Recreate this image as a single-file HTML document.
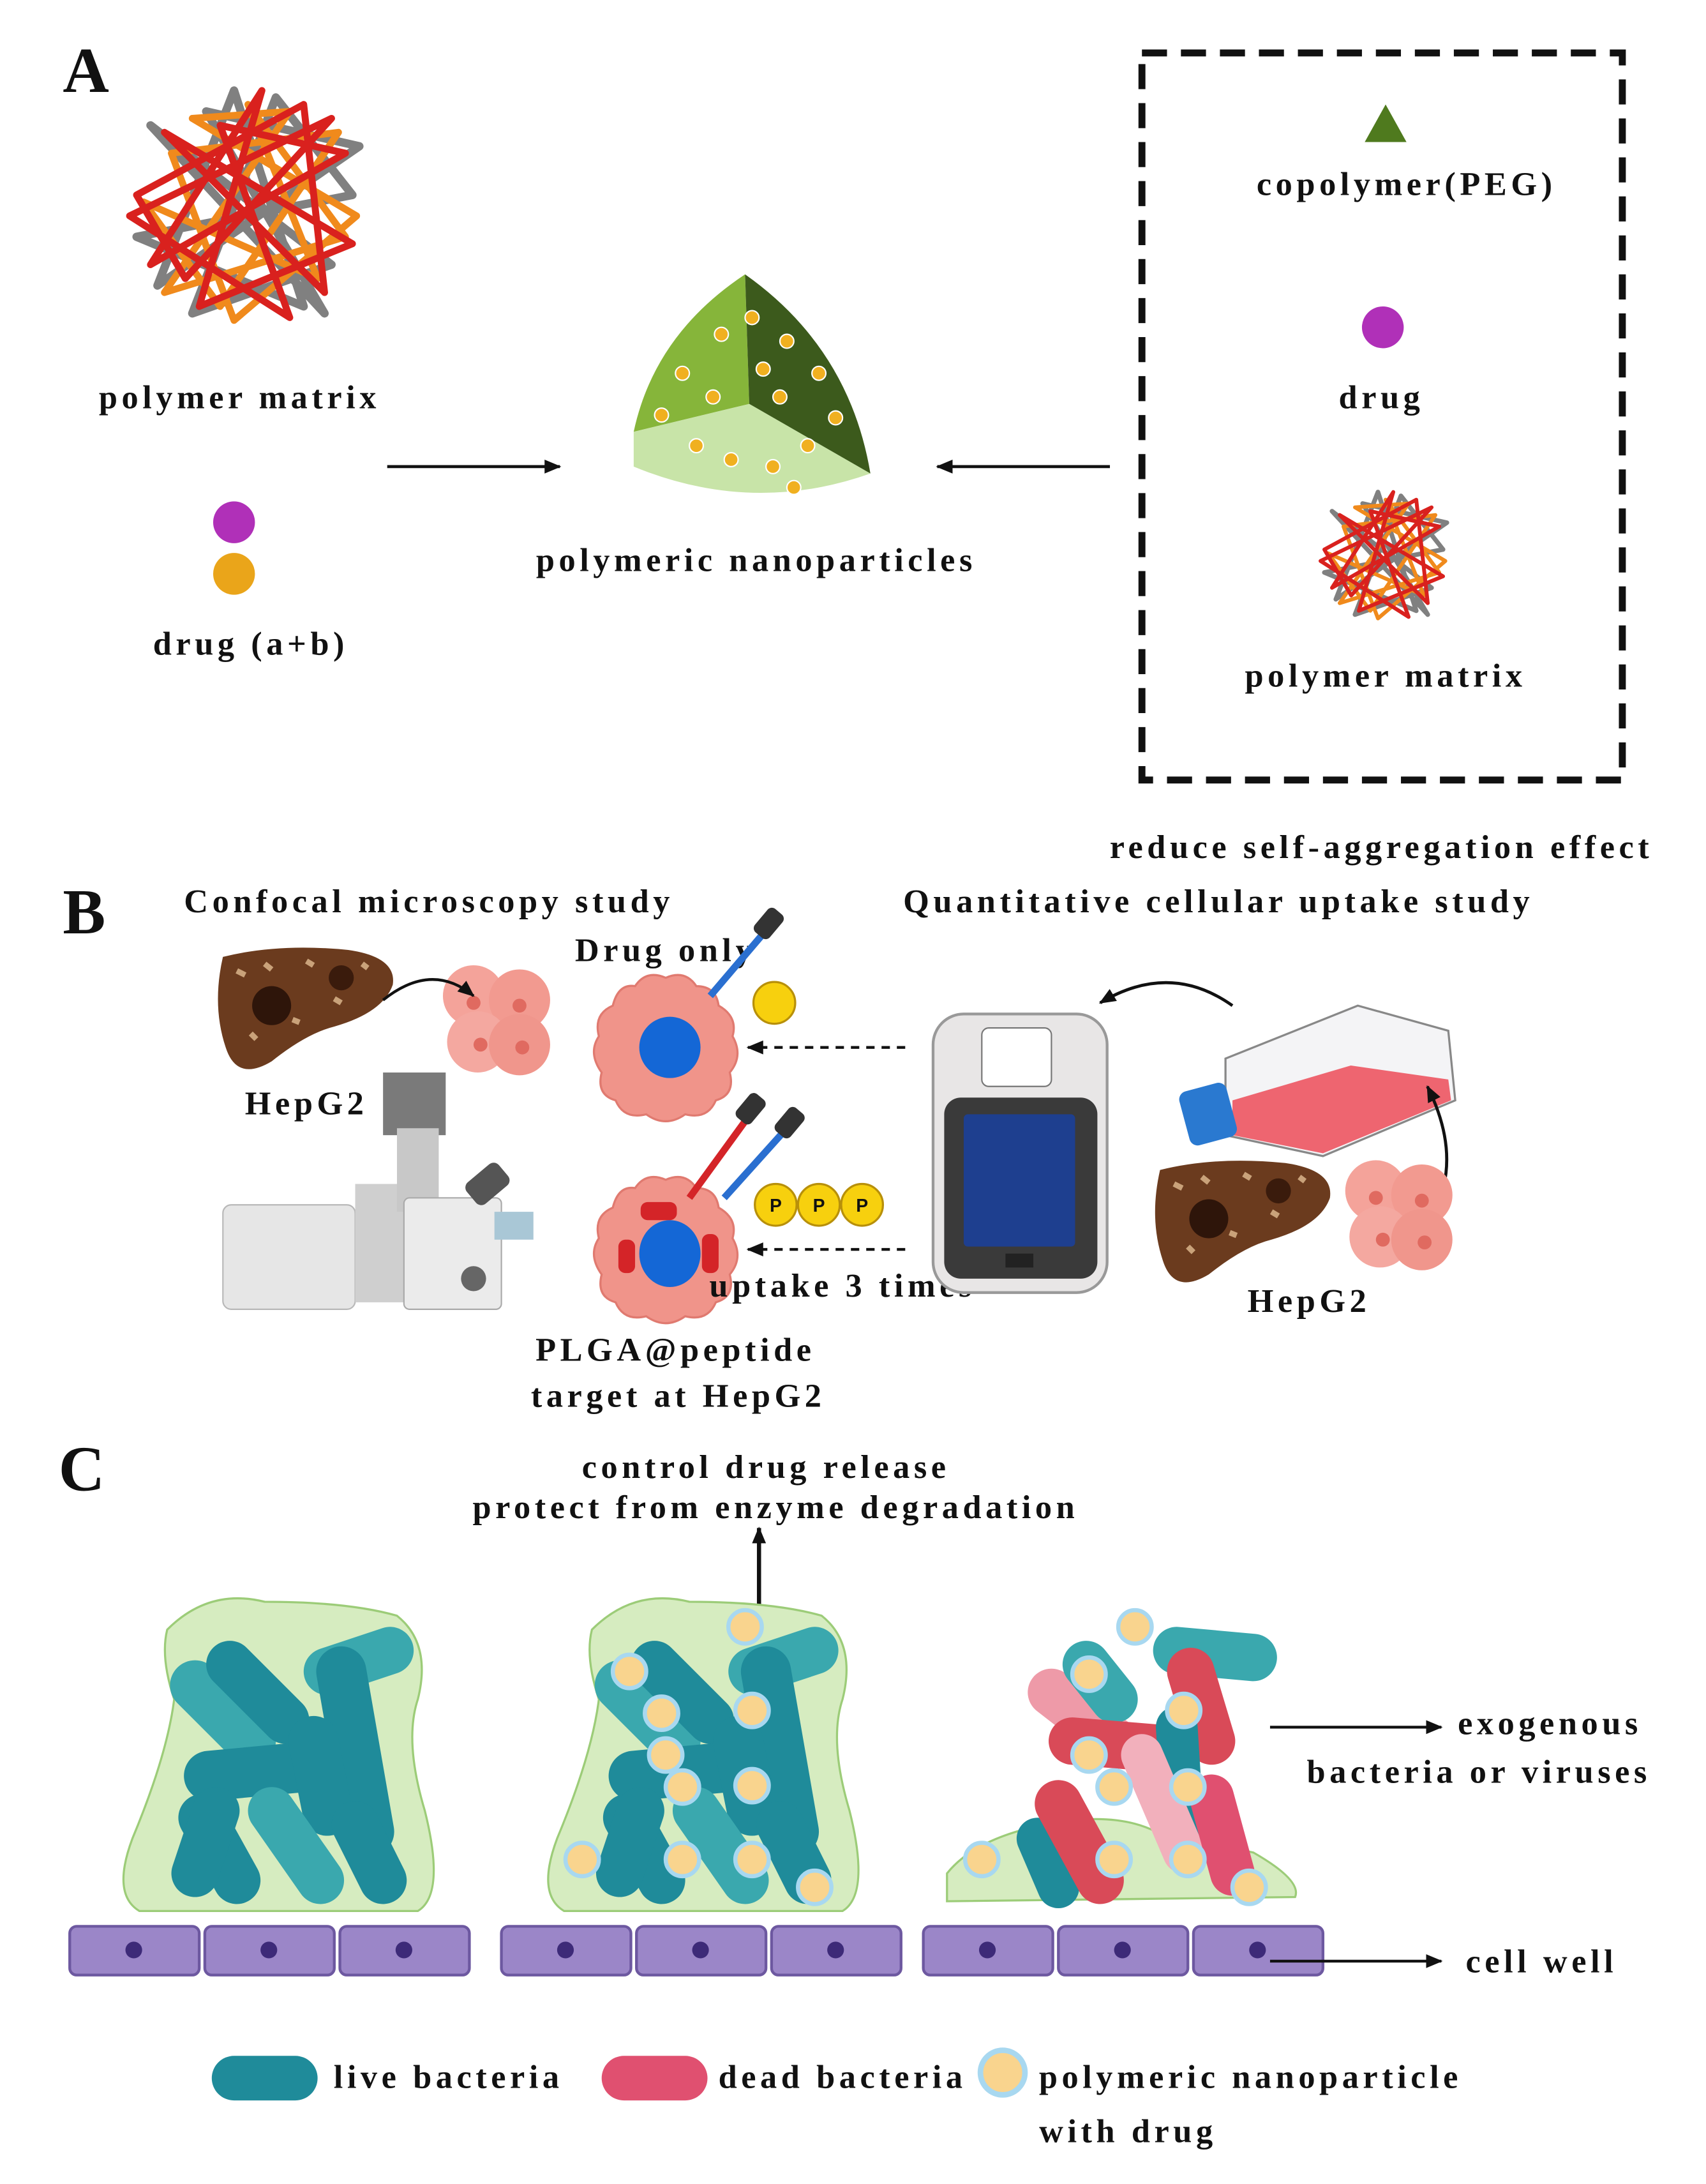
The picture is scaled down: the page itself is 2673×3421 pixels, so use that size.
<!DOCTYPE html>
<html><head><meta charset="utf-8"><style>
html,body{margin:0;padding:0;background:#fff}
svg{display:block}
text{font-family:"Liberation Serif",serif;font-weight:bold;fill:#111}
.t{font-size:24px;letter-spacing:3px}
.big{font-size:46px;letter-spacing:0}
</style></head><body>
<svg width="2673" height="3421" viewBox="0 0 1225 1568" xmlns="http://www.w3.org/2000/svg">
<defs>
<marker id="ah" markerWidth="12" markerHeight="10" refX="11" refY="5" orient="auto" markerUnits="userSpaceOnUse"><path d="M0,0 L12,5 L0,10 z" fill="#111"/></marker>
<g id="tangle">
<polygon points="-70,-60 60,40 -40,75 20,-80 75,-10 -80,20 40,70 -10,-85 -65,55 80,-45 -30,-70 55,75" fill="none" stroke="#808080" stroke-width="6" stroke-linejoin="round"/>
<polygon points="-55,-40 65,-55 -20,70 -75,-5 50,50 0,-75 70,20 -60,60 30,-70 -40,-65 78,5 -10,80" fill="none" stroke="#f08a1c" stroke-width="5" stroke-linejoin="round"/>
<polygon points="-80,-10 40,-75 55,60 -60,-55 75,25 -35,70 10,-85 -70,40 70,-40 -20,-60 30,78 -85,5 60,-65 -45,50" fill="none" stroke="#d9211e" stroke-width="5" stroke-linejoin="round"/>
</g>
<g id="cellp"><path d="M0,-50 Q14,-56 22,-44 Q36,-44 38,-30 Q52,-22 48,-8 Q56,6 46,18 Q50,34 36,38 Q30,52 14,48 Q0,58 -14,48 Q-30,52 -36,38 Q-50,34 -46,18 Q-56,4 -48,-8 Q-52,-24 -38,-30 Q-34,-46 -22,-44 Q-14,-56 0,-50z" fill="#f0948a" stroke="#e07a70" stroke-width="1.5"/></g>
<g id="cluster"><circle cx="-15" cy="-15" r="22" fill="#f4a39a"/><circle cx="18" cy="-12" r="22" fill="#f29a90"/><circle cx="-12" cy="18" r="22" fill="#f4a8a0"/><circle cx="18" cy="20" r="22" fill="#f0968c"/><circle cx="-15" cy="-10" r="5" fill="#e06a60"/><circle cx="18" cy="-8" r="5" fill="#e06a60"/><circle cx="-10" cy="20" r="5" fill="#e06a60"/><circle cx="20" cy="22" r="5" fill="#e06a60"/></g>
<g id="liver"><path d="M-60,-35 Q-20,-45 30,-40 Q65,-35 62,-15 Q55,5 20,15 Q0,20 -25,40 Q-50,55 -58,30 Q-68,0 -60,-35z" fill="#6b3b1e"/><circle cx="-25" cy="0" r="14" fill="#2e150a"/><circle cx="25" cy="-20" r="9" fill="#3a1b0c"/><path d="M-50,-25 l6,3 M-30,-30 l5,4 M0,-32 l5,3 M20,-5 l5,3 M-40,20 l4,4 M40,-30 l4,3 M-10,10 l5,2" stroke="#c9a27a" stroke-width="4"/></g>
<g id="np"><circle r="12" fill="#f9d48e" stroke="#a8d8f0" stroke-width="3"/></g>
</defs>

<!-- A -->
<text x="45" y="66" class="big">A</text>
<use href="#tangle" transform="translate(178,150)"/>
<text x="172" y="293" class="t" text-anchor="middle">polymer matrix</text>
<circle cx="168" cy="375" r="15" fill="#b030b8"/>
<circle cx="168" cy="412" r="15" fill="#eaa51a"/>
<text x="180" y="470" class="t" text-anchor="middle">drug (a+b)</text>
<line x1="278" y1="335" x2="402" y2="335" stroke="#111" stroke-width="2.2" marker-end="url(#ah)"/>
<path d="M535,197 Q470,240 455,310 L538,290 z" fill="#86b53a"/>
<path d="M535,197 Q610,250 625,340 L538,290 z" fill="#3c5a1c"/>
<path d="M455,310 L538,290 L625,340 Q540,370 455,335 z" fill="#c8e4a8"/>
<g fill="#f0b020" stroke="#fff" stroke-width="1">
<circle cx="518" cy="240" r="5"/><circle cx="490" cy="268" r="5"/><circle cx="512" cy="285" r="5"/><circle cx="475" cy="298" r="5"/><circle cx="540" cy="228" r="5"/><circle cx="565" cy="245" r="5"/><circle cx="588" cy="268" r="5"/><circle cx="560" cy="285" r="5"/><circle cx="600" cy="300" r="5"/><circle cx="548" cy="265" r="5"/><circle cx="500" cy="320" r="5"/><circle cx="525" cy="330" r="5"/><circle cx="555" cy="335" r="5"/><circle cx="570" cy="350" r="5"/><circle cx="580" cy="320" r="5"/>
</g>
<text x="543" y="410" class="t" text-anchor="middle">polymeric nanoparticles</text>
<line x1="797" y1="335" x2="673" y2="335" stroke="#111" stroke-width="2.2" marker-end="url(#ah)"/>
<rect x="820" y="38" width="345" height="522" fill="none" stroke="#111" stroke-width="5" stroke-dasharray="18,10"/>
<polygon points="995,75 1010,102 980,102" fill="#4f7a1e"/>
<text x="1010" y="140" class="t" text-anchor="middle">copolymer(PEG)</text>
<circle cx="993" cy="235" r="15" fill="#b030b8"/>
<text x="992" y="293" class="t" text-anchor="middle">drug</text>
<use href="#tangle" transform="translate(995,400) scale(0.55)"/>
<text x="995" y="493" class="t" text-anchor="middle">polymer matrix</text>
<text x="992" y="616" class="t" text-anchor="middle">reduce self-aggregation effect</text>

<!-- B -->
<text x="45" y="670" class="big">B</text>
<text x="308" y="655" class="t" text-anchor="middle">Confocal microscopy study</text>
<text x="875" y="655" class="t" text-anchor="middle">Quantitative cellular uptake study</text>
<use href="#liver" transform="translate(220,722)"/>
<use href="#cluster" transform="translate(355,730)"/>
<path d="M275,718 Q310,690 340,715" fill="none" stroke="#111" stroke-width="2" marker-end="url(#ah)"/>
<text x="220" y="800" class="t" text-anchor="middle">HepG2</text>
<rect x="160" y="865" width="95" height="75" rx="6" fill="#e6e6e6" stroke="#b8b8b8"/>
<rect x="255" y="850" width="45" height="85" fill="#cfcfcf"/>
<rect x="275" y="770" width="45" height="45" fill="#7a7a7a"/>
<rect x="285" y="810" width="30" height="60" fill="#c8c8c8"/>
<rect x="290" y="860" width="70" height="80" rx="4" fill="#ebebeb" stroke="#aaa"/>
<circle cx="340" cy="918" r="9" fill="#666"/>
<rect x="335" y="840" width="30" height="20" rx="5" fill="#555" transform="rotate(-40 350 850)"/>
<rect x="355" y="870" width="28" height="20" fill="#a9c7d6"/>
<use href="#cellp" transform="translate(478,752)"/>
<ellipse cx="481" cy="752" rx="22" ry="22" fill="#1467d6"/>
<text x="478" y="690" class="t" text-anchor="middle">Drug only</text>
<line x1="510" y1="715" x2="550" y2="668" stroke="#2a6fd0" stroke-width="5"/>
<rect x="545" y="652" width="14" height="22" rx="4" fill="#333" transform="rotate(40 552 663)"/>
<circle cx="556" cy="720" r="15" fill="#f7d00e" stroke="#b8900a" stroke-width="1.5"/>
<line x1="650" y1="752" x2="537" y2="752" stroke="#111" stroke-width="2" stroke-dasharray="6,5" marker-end="url(#ah)"/>
<use href="#cellp" transform="translate(478,897)"/>
<ellipse cx="481" cy="900" rx="22" ry="24" fill="#1467d6"/>
<rect x="460" y="863" width="26" height="13" rx="5" fill="#d42428"/>
<rect x="444" y="890" width="12" height="24" rx="5" fill="#d42428"/>
<rect x="504" y="886" width="12" height="28" rx="5" fill="#d42428"/>
<line x1="495" y1="860" x2="535" y2="805" stroke="#d42428" stroke-width="5"/>
<rect x="532" y="785" width="14" height="22" rx="4" fill="#333" transform="rotate(40 539 796)"/>
<line x1="520" y1="860" x2="565" y2="810" stroke="#2a6fd0" stroke-width="5"/>
<rect x="560" y="795" width="14" height="22" rx="4" fill="#333" transform="rotate(40 567 806)"/>
<circle cx="557" cy="865" r="15" fill="#f7d00e" stroke="#b8900a" stroke-width="1.5"/><circle cx="588" cy="865" r="15" fill="#f7d00e" stroke="#b8900a" stroke-width="1.5"/><circle cx="619" cy="865" r="15" fill="#f7d00e" stroke="#b8900a" stroke-width="1.5"/>
<text x="557" y="870" text-anchor="middle" style="font-family:'Liberation Sans',sans-serif;font-size:13px">P</text><text x="588" y="870" text-anchor="middle" style="font-family:'Liberation Sans',sans-serif;font-size:13px">P</text><text x="619" y="870" text-anchor="middle" style="font-family:'Liberation Sans',sans-serif;font-size:13px">P</text>
<line x1="650" y1="897" x2="537" y2="897" stroke="#111" stroke-width="2" stroke-dasharray="6,5" marker-end="url(#ah)"/>
<text x="605" y="931" class="t" text-anchor="middle">uptake 3 times</text>
<text x="485" y="977" class="t" text-anchor="middle">PLGA@peptide</text>
<text x="487" y="1010" class="t" text-anchor="middle">target at HepG2</text>
<rect x="670" y="728" width="125" height="200" rx="22" fill="#e8e6e6" stroke="#999" stroke-width="2"/>
<rect x="705" y="738" width="50" height="42" rx="5" fill="#fff" stroke="#777"/>
<rect x="678" y="788" width="110" height="130" rx="12" fill="#3a3a3a"/>
<rect x="692" y="800" width="80" height="95" rx="3" fill="#1e3f8f"/>
<rect x="722" y="900" width="20" height="10" fill="#222"/>
<path d="M885,722 Q840,690 790,720" fill="none" stroke="#111" stroke-width="2.2" marker-end="url(#ah)"/>
<polygon points="880,760 975,722 1040,740 1045,790 950,830 880,815" fill="#f4f4f6" stroke="#888" stroke-width="1.5"/>
<polygon points="885,790 970,765 1040,775 1042,790 950,828 885,815" fill="#ee6570"/>
<rect x="850" y="780" width="35" height="40" rx="6" fill="#2a79d0" transform="rotate(-15 867 800)"/>
<path d="M1030,870 Q1050,830 1025,780" fill="none" stroke="#111" stroke-width="2.2" marker-end="url(#ah)"/>
<use href="#liver" transform="translate(893,875)"/>
<use href="#cluster" transform="translate(1003,870)"/>
<text x="940" y="942" class="t" text-anchor="middle">HepG2</text>

<!-- C -->
<text x="42" y="1070" class="big">C</text>
<text x="550" y="1061" class="t" text-anchor="middle">control drug release</text>
<text x="557" y="1090" class="t" text-anchor="middle">protect from enzyme degradation</text>
<line x1="545" y1="1158" x2="545" y2="1097" stroke="#111" stroke-width="3" marker-end="url(#ah)"/>

<g id="panel1">
<path d="M120,1170 Q150,1140 190,1150 Q250,1150 285,1160 Q310,1180 300,1220 Q290,1250 305,1300 Q320,1360 300,1372 L100,1372 Q80,1360 95,1320 Q120,1260 125,1220 Q115,1190 120,1170z" fill="#d6ecc0" stroke="#9ccc78" stroke-width="1.5"/>
<g stroke-linecap="round" fill="none">
<line x1="140" y1="1210" x2="180" y2="1250" stroke="#3aa8ae" stroke-width="36"/>
<line x1="165" y1="1195" x2="205" y2="1235" stroke="#1f8b9a" stroke-width="34"/>
<line x1="150" y1="1275" x2="225" y2="1268" stroke="#1f8b9a" stroke-width="36"/>
<line x1="235" y1="1200" x2="280" y2="1185" stroke="#3aa8ae" stroke-width="34"/>
<line x1="245" y1="1200" x2="265" y2="1315" stroke="#1f8b9a" stroke-width="36"/>
<line x1="225" y1="1250" x2="235" y2="1300" stroke="#1f8b9a" stroke-width="36"/>
<line x1="195" y1="1300" x2="230" y2="1350" stroke="#3aa8ae" stroke-width="34"/>
<line x1="145" y1="1305" x2="170" y2="1350" stroke="#1f8b9a" stroke-width="34"/>
<line x1="155" y1="1300" x2="140" y2="1345" stroke="#1f8b9a" stroke-width="34"/>
<line x1="255" y1="1310" x2="275" y2="1350" stroke="#1f8b9a" stroke-width="34"/>
</g>
</g>
<use href="#panel1" transform="translate(305,0)"/>
<use href="#np" transform="translate(452,1200)"/><use href="#np" transform="translate(475,1230)"/><use href="#np" transform="translate(540,1228)"/><use href="#np" transform="translate(540,1282)"/><use href="#np" transform="translate(490,1283)"/><use href="#np" transform="translate(478,1260)"/><use href="#np" transform="translate(418,1335)"/><use href="#np" transform="translate(490,1335)"/><use href="#np" transform="translate(540,1335)"/><use href="#np" transform="translate(585,1355)"/><use href="#np" transform="translate(535,1168)"/>
<path d="M680,1345 Q700,1320 750,1310 Q800,1300 830,1315 L900,1330 Q935,1350 930,1362 L680,1365z" fill="#d6ecc0" stroke="#9ccc78" stroke-width="1.5"/>
<g stroke-linecap="round" fill="none">
<line x1="755" y1="1215" x2="800" y2="1250" stroke="#ee9aa8" stroke-width="34"/>
<line x1="780" y1="1195" x2="800" y2="1220" stroke="#3aa8ae" stroke-width="34"/>
<line x1="845" y1="1185" x2="900" y2="1190" stroke="#3aa8ae" stroke-width="34"/>
<line x1="855" y1="1200" x2="870" y2="1250" stroke="#d94a58" stroke-width="34"/>
<line x1="770" y1="1250" x2="830" y2="1255" stroke="#d94a58" stroke-width="34"/>
<line x1="845" y1="1240" x2="850" y2="1320" stroke="#1f8b9a" stroke-width="30"/>
<line x1="820" y1="1260" x2="850" y2="1330" stroke="#f2b0bc" stroke-width="30"/>
<line x1="870" y1="1290" x2="885" y2="1345" stroke="#e05070" stroke-width="32"/>
<line x1="745" y1="1320" x2="760" y2="1355" stroke="#1f8b9a" stroke-width="30"/>
<line x1="760" y1="1295" x2="790" y2="1350" stroke="#d94a58" stroke-width="34"/>
</g>
<use href="#np" transform="translate(815,1168)"/><use href="#np" transform="translate(782,1202)"/><use href="#np" transform="translate(850,1228)"/><use href="#np" transform="translate(782,1260)"/><use href="#np" transform="translate(800,1283)"/><use href="#np" transform="translate(853,1283)"/><use href="#np" transform="translate(705,1335)"/><use href="#np" transform="translate(800,1335)"/><use href="#np" transform="translate(853,1335)"/><use href="#np" transform="translate(897,1355)"/>
<line x1="912" y1="1240" x2="1035" y2="1240" stroke="#111" stroke-width="2" marker-end="url(#ah)"/>
<text x="1113" y="1245" class="t" text-anchor="middle">exogenous</text>
<text x="1062" y="1280" class="t" text-anchor="middle">bacteria or viruses</text>
<g fill="#9b86c8" stroke="#6d58a0" stroke-width="2">
<rect x="50" y="1383" width="93" height="35" rx="5"/><rect x="147" y="1383" width="93" height="35" rx="5"/><rect x="244" y="1383" width="93" height="35" rx="5"/>
<rect x="360" y="1383" width="93" height="35" rx="5"/><rect x="457" y="1383" width="93" height="35" rx="5"/><rect x="554" y="1383" width="93" height="35" rx="5"/>
<rect x="663" y="1383" width="93" height="35" rx="5"/><rect x="760" y="1383" width="93" height="35" rx="5"/><rect x="857" y="1383" width="93" height="35" rx="5"/>
</g>
<g fill="#3d2a78">
<circle cx="96" cy="1400" r="6"/><circle cx="193" cy="1400" r="6"/><circle cx="290" cy="1400" r="6"/>
<circle cx="406" cy="1400" r="6"/><circle cx="503" cy="1400" r="6"/><circle cx="600" cy="1400" r="6"/>
<circle cx="709" cy="1400" r="6"/><circle cx="806" cy="1400" r="6"/><circle cx="903" cy="1400" r="6"/>
</g>
<line x1="912" y1="1408" x2="1035" y2="1408" stroke="#111" stroke-width="2" marker-end="url(#ah)"/>
<text x="1107" y="1416" class="t" text-anchor="middle">cell well</text>
<line x1="168" y1="1492" x2="212" y2="1492" stroke="#1f8b9a" stroke-width="32" stroke-linecap="round"/>
<text x="322" y="1499" class="t" text-anchor="middle">live bacteria</text>
<line x1="448" y1="1492" x2="492" y2="1492" stroke="#e05070" stroke-width="32" stroke-linecap="round"/>
<text x="605" y="1499" class="t" text-anchor="middle">dead bacteria</text>
<circle cx="720" cy="1488" r="16" fill="#f9d48e" stroke="#a8d8f0" stroke-width="4"/>
<text x="898" y="1499" class="t" text-anchor="middle">polymeric nanoparticle</text>
<text x="810" y="1538" class="t" text-anchor="middle">with drug</text>
</svg>
</body></html>
